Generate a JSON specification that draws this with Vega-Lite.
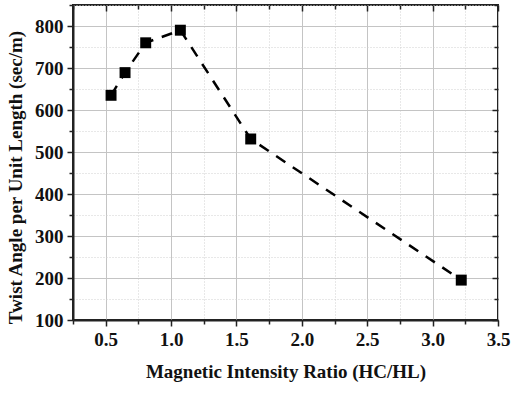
{
  "$schema": "https://vega.github.io/schema/vega-lite/v6.json",
  "width": 425,
  "height": 315,
  "autosize": "none",
  "padding": {"left": 73, "top": 5, "right": 17, "bottom": 73},
  "background": "white",
  "config": {
    "view": {"stroke": "#222222", "strokeWidth": 2},
    "font": "Liberation Serif",
    "text": {"font": "Liberation Serif"},
    "axis": {
      "labelFont": "Liberation Serif",
      "titleFont": "Liberation Serif",
      "labelFontSize": 19,
      "labelFontWeight": "bold",
      "titleFontSize": 19,
      "titleFontWeight": "bold",
      "labelColor": "#111111",
      "titleColor": "#111111",
      "domainColor": "#222222",
      "domainWidth": 2,
      "tickColor": "#222222",
      "tickWidth": 1.5
    }
  },
  "data": {
    "values": [
      {"ratio": 0.541, "twist": 635},
      {"ratio": 0.648, "twist": 689},
      {"ratio": 0.806, "twist": 760},
      {"ratio": 1.071, "twist": 790},
      {"ratio": 1.609, "twist": 531},
      {"ratio": 3.219, "twist": 195}
    ]
  },
  "layer": [
    {
      "mark": {"type": "line", "color": "black", "strokeWidth": 2.5, "strokeDash": [11, 9]},
      "encoding": {
        "x": {
          "field": "ratio", "type": "quantitative",
          "scale": {"domain": [0.25, 3.5], "nice": false, "zero": false},
          "axis": {
            "title": "Magnetic Intensity Ratio (HC/HL)",
            "labelFont": "Liberation Serif",
            "titleFont": "Liberation Serif",
            "values": [0.25, 0.5, 0.75, 1.0, 1.25, 1.5, 1.75, 2.0, 2.25, 2.5, 2.75, 3.0, 3.25, 3.5],
            "labelExpr": "(datum.value * 2) % 1 == 0 ? format(datum.value, '.1f') : ''",
            "grid": true,
            "gridColor": {"condition": {"test": "(datum.value * 2) % 1 == 0", "value": "#c4c4c4"}, "value": "#d0d0d0"},
            "gridDash": {"condition": {"test": "(datum.value * 2) % 1 == 0", "value": []}, "value": [1, 2]},
            "gridWidth": 1,
            "tickSize": {"condition": {"test": "(datum.value * 2) % 1 == 0", "value": 6}, "value": 4},
            "labelPadding": 4,
            "titlePadding": 13,
            "labelFlush": false,
            "labelOverlap": false
          }
        },
        "y": {
          "field": "twist", "type": "quantitative",
          "scale": {"domain": [100, 850], "nice": false, "zero": false},
          "axis": {
            "title": "Twist Angle per Unit Length (sec/m)",
            "labelFont": "Liberation Serif",
            "titleFont": "Liberation Serif",
            "titleY": 172,
            "values": [100, 150, 200, 250, 300, 350, 400, 450, 500, 550, 600, 650, 700, 750, 800, 850],
            "labelExpr": "datum.value % 100 == 0 ? format(datum.value, 'd') : ''",
            "grid": true,
            "gridColor": {"condition": {"test": "datum.value % 100 == 0", "value": "#c4c4c4"}, "value": "#d0d0d0"},
            "gridDash": {"condition": {"test": "datum.value % 100 == 0", "value": []}, "value": [1, 2]},
            "gridWidth": 1,
            "tickSize": {"condition": {"test": "datum.value % 100 == 0", "value": 6}, "value": 4},
            "labelPadding": 4,
            "titlePadding": 9,
            "labelFlush": false,
            "labelOverlap": false
          }
        }
      }
    },
    {
      "mark": {"type": "point", "shape": "square", "filled": true, "color": "black", "size": 120, "opacity": 1},
      "encoding": {
        "x": {
          "field": "ratio", "type": "quantitative",
          "axis": {
            "orient": "top", "title": null, "labels": false, "grid": false, "domain": false,
            "values": [0.25, 0.5, 0.75, 1.0, 1.25, 1.5, 1.75, 2.0, 2.25, 2.5, 2.75, 3.0, 3.25, 3.5],
            "tickSize": {"condition": {"test": "(datum.value * 2) % 1 == 0", "value": -6}, "value": -4}
          }
        },
        "y": {
          "field": "twist", "type": "quantitative",
          "axis": {
            "orient": "right", "title": null, "labels": false, "grid": false, "domain": false,
            "values": [100, 150, 200, 250, 300, 350, 400, 450, 500, 550, 600, 650, 700, 750, 800, 850],
            "tickSize": {"condition": {"test": "datum.value % 100 == 0", "value": -6}, "value": -4}
          }
        }
      }
    }
  ],
  "resolve": {"axis": {"x": "independent", "y": "independent"}}
}
